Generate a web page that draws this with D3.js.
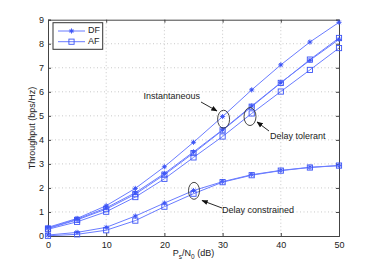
<!DOCTYPE html>
<html>
<head>
<meta charset="utf-8">
<script src="https://cdn.jsdelivr.net/npm/d3@7"></script>
<style>
  body { margin: 0; background: #fff; }
  text { font-family: "Liberation Sans", Arial, sans-serif; }
</style>
</head>
<body>
<script>
// Størrelse på svg
const w = 374;
const h = 266;

// Plot-området
const plotLeft = 48, plotRight = 339, plotTop = 19.7, plotBottom = 236;

// Data - SNR i dB
const snr = [0, 5, 10, 15, 20, 25, 30, 35, 40, 45, 50];

// Instantaneous
const dfInst = [0.36, 0.73, 1.26, 1.98, 2.88, 3.90, 4.97, 6.08, 7.12, 8.07, 8.89];
const afInst = [0.31, 0.67, 1.12, 1.74, 2.55, 3.45, 4.40, 5.38, 6.37, 7.34, 8.24];
// Delay tolerant
const dfTol = [0.33, 0.70, 1.17, 1.80, 2.60, 3.50, 4.42, 5.41, 6.38, 7.31, 8.18];
const afTol = [0.28, 0.59, 1.01, 1.62, 2.38, 3.27, 4.14, 5.10, 6.01, 6.91, 7.82];
// Delay constrained
const dfCon = [0.04, 0.15, 0.36, 0.83, 1.37, 1.89, 2.26, 2.55, 2.73, 2.86, 2.93];
const afCon = [0.01, 0.07, 0.24, 0.64, 1.22, 1.76, 2.24, 2.53, 2.72, 2.85, 2.93];

const xTicks = [0, 10, 20, 30, 40, 50];
const yTicks = [0, 1, 2, 3, 4, 5, 6, 7, 8, 9];

const series = [
  { values: dfInst, marker: "star" },
  { values: afInst, marker: "square" },
  { values: dfTol, marker: "star" },
  { values: afTol, marker: "square" },
  { values: dfCon, marker: "star" },
  { values: afCon, marker: "square" }
];

const lineColor = "#6a7cff";
const markColor = "#3d55f5";

const svg = d3.select("body").append("svg").attr("width", w).attr("height", h);

const xScale = d3.scaleLinear().domain([0, 50]).range([plotLeft, plotRight]);
const yScale = d3.scaleLinear().domain([0, 9]).range([plotBottom, plotTop]);

// Grid (prikket)
svg.append("g")
  .selectAll("line")
  .data(xTicks.slice(1, -1))
  .enter()
  .append("line")
  .attr("x1", d => xScale(d)).attr("x2", d => xScale(d))
  .attr("y1", plotTop).attr("y2", plotBottom)
  .attr("stroke", "#bbb").attr("stroke-width", 0.8).attr("stroke-dasharray", "1,2.5");

svg.append("g")
  .selectAll("line")
  .data(yTicks.slice(1, -1))
  .enter()
  .append("line")
  .attr("x1", plotLeft).attr("x2", plotRight)
  .attr("y1", d => yScale(d)).attr("y2", d => yScale(d))
  .attr("stroke", "#bbb").attr("stroke-width", 0.8).attr("stroke-dasharray", "1,2.5");

// Akser
const xAxis = d3.axisBottom(xScale).tickValues(xTicks).tickSize(-3).tickPadding(6);
const yAxis = d3.axisLeft(yScale).tickValues(yTicks).tickSize(-3).tickPadding(4);

function styleAxis(g) {
  g.select(".domain").attr("stroke", "#444");
  g.selectAll(".tick line").attr("stroke", "#444");
  g.selectAll(".tick text").attr("fill", "#222").style("font-size", "9px")
    .style("font-family", "'Liberation Sans', Arial, sans-serif");
}

svg.append("g").attr("transform", "translate(0," + plotBottom + ")").call(xAxis).call(styleAxis);
svg.append("g").attr("transform", "translate(" + plotLeft + ",0)").call(yAxis).call(styleAxis);
svg.append("g").attr("transform", "translate(0," + plotTop + ")")
  .call(d3.axisTop(xScale).tickValues(xTicks).tickSize(-3).tickFormat(""))
  .call(styleAxis);
svg.append("g").attr("transform", "translate(" + plotRight + ",0)")
  .call(d3.axisRight(yScale).tickValues(yTicks).tickSize(-3).tickFormat(""))
  .call(styleAxis);

// Linjer
const line = d3.line()
  .x((d, i) => xScale(snr[i]))
  .y(d => yScale(d));

function drawMarker(g, type, x, y) {
  if (type === "star") {
    const r = 2.6;
    [0, 45, 90, 135].forEach(a => {
      const dx = r * Math.cos(a * Math.PI / 180), dy = r * Math.sin(a * Math.PI / 180);
      g.append("line")
        .attr("x1", x - dx).attr("y1", y - dy).attr("x2", x + dx).attr("y2", y + dy)
        .attr("stroke", markColor).attr("stroke-width", 0.9);
    });
    g.append("circle").attr("cx", x).attr("cy", y).attr("r", 1.3).attr("fill", markColor);
  } else {
    g.append("rect")
      .attr("x", x - 2.6).attr("y", y - 2.6).attr("width", 5.2).attr("height", 5.2)
      .attr("fill", "none").attr("stroke", markColor).attr("stroke-width", 0.9);
  }
}

series.forEach(s => {
  svg.append("path")
    .datum(s.values)
    .attr("d", line)
    .attr("fill", "none")
    .attr("stroke", lineColor)
    .attr("stroke-width", 1);
  const g = svg.append("g");
  s.values.forEach((v, i) => drawMarker(g, s.marker, xScale(snr[i]), yScale(v)));
});

// Annotationer (ellipser, pile og tekst)
svg.append("defs").append("marker")
  .attr("id", "arrow").attr("viewBox", "0 0 10 10")
  .attr("refX", 9).attr("refY", 5)
  .attr("markerWidth", 7).attr("markerHeight", 7)
  .attr("orient", "auto")
  .append("path").attr("d", "M0,1 L10,5 L0,9 z").attr("fill", "#111");

function annotate(cx, cy, rx, ry, x1, y1, x2, y2, label, tx, ty, anchor) {
  svg.append("ellipse")
    .attr("cx", cx).attr("cy", cy).attr("rx", rx).attr("ry", ry)
    .attr("fill", "none").attr("stroke", "#333").attr("stroke-width", 0.9);
  svg.append("line")
    .attr("x1", x1).attr("y1", y1).attr("x2", x2).attr("y2", y2)
    .attr("stroke", "#111").attr("stroke-width", 0.9)
    .attr("marker-end", "url(#arrow)");
  svg.append("text")
    .attr("x", tx).attr("y", ty)
    .attr("text-anchor", anchor)
    .attr("dominant-baseline", "middle")
    .style("font-size", "9px").attr("fill", "#222")
    .text(label);
}

annotate(xScale(30) + 1, yScale(4.86), 6, 9, 201, 102, 217, 111, "Instantaneous", 200, 97, "end");
annotate(xScale(35) - 1.7, yScale(4.97), 6, 9, 269, 131, 257, 122, "Delay tolerant", 270, 137, "start");
annotate(xScale(25) + 0.5, yScale(1.88), 5.5, 8.5, 222, 208, 202, 200.5, "Delay constrained", 222, 211, "start");

// Legend
const lg = svg.append("g");
lg.append("rect")
  .attr("x", 53).attr("y", 22.7).attr("width", 49.7).attr("height", 26.6)
  .attr("fill", "#fff").attr("stroke", "#333").attr("stroke-width", 1);
const legendItems = [{ name: "DF", marker: "star", y: 31 }, { name: "AF", marker: "square", y: 41.7 }];
legendItems.forEach(d => {
  lg.append("line").attr("x1", 58).attr("x2", 85).attr("y1", d.y).attr("y2", d.y)
    .attr("stroke", lineColor).attr("stroke-width", 1);
  drawMarker(lg, d.marker, 71.5, d.y);
  lg.append("text").attr("x", 88).attr("y", d.y).attr("dominant-baseline", "middle")
    .style("font-size", "9px").attr("fill", "#222").text(d.name);
});

// Akse-titler
svg.append("text")
  .attr("text-anchor", "middle")
  .attr("transform", "translate(33,128) rotate(-90)")
  .attr("dominant-baseline", "middle")
  .style("font-size", "9px").attr("fill", "#222")
  .text("Throughput (bps/Hz)");

const xl = svg.append("text")
  .attr("x", 193.5).attr("y", 256)
  .attr("text-anchor", "middle")
  .style("font-size", "9px").attr("fill", "#222");
xl.append("tspan").text("P");
xl.append("tspan").attr("dy", 2.5).style("font-size", "6.5px").text("s");
xl.append("tspan").attr("dy", -2.5).text("/N");
xl.append("tspan").attr("dy", 2.5).style("font-size", "6.5px").text("0");
xl.append("tspan").attr("dy", -2.5).text(" (dB)");
</script>
</body>
</html>
